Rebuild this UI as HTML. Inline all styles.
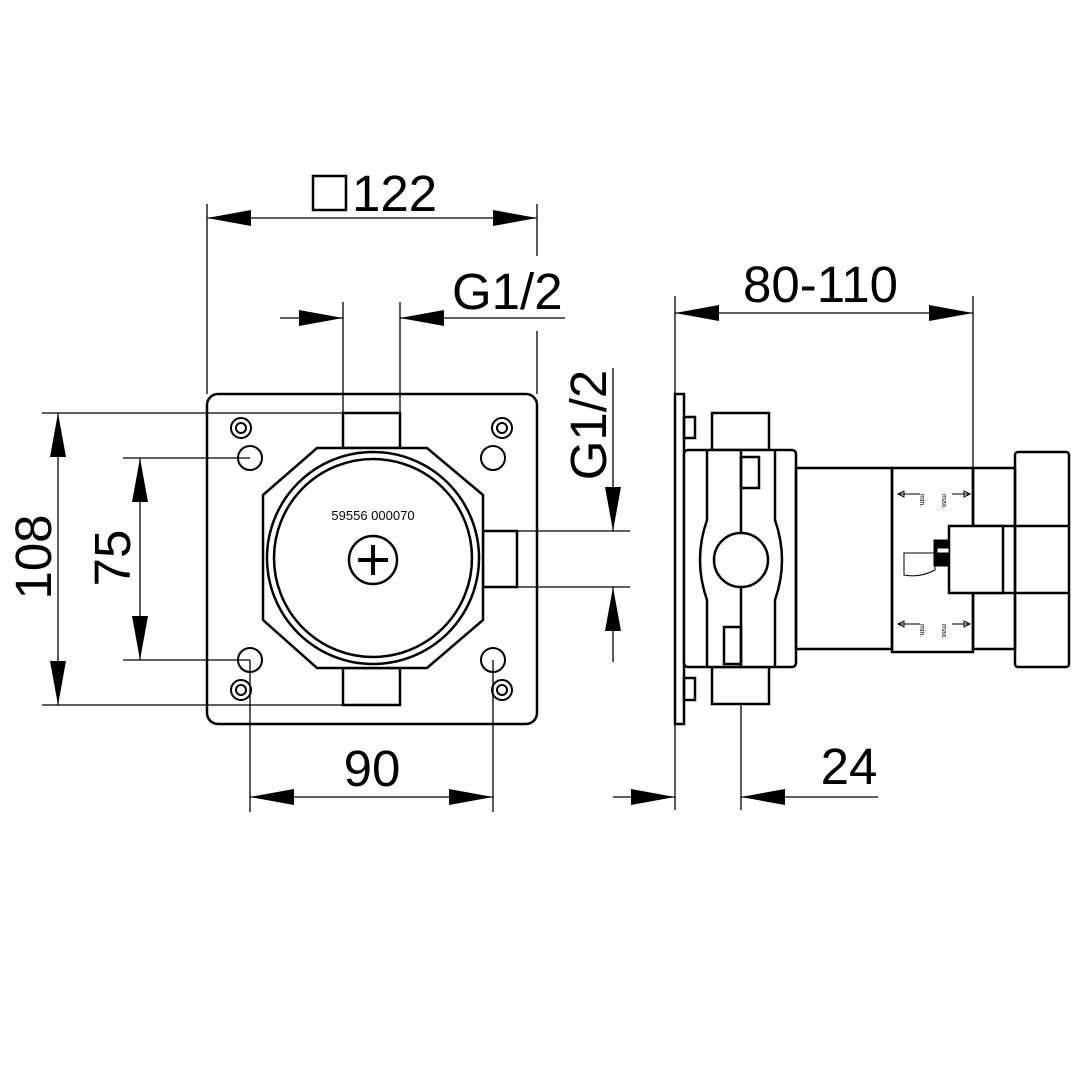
<!DOCTYPE html>
<html><head><meta charset="utf-8"><style>
html,body{margin:0;padding:0;background:#fff}
svg{display:block}
text{font-family:"Liberation Sans",sans-serif;fill:#000}
</style></head><body>
<svg width="1080" height="1080" viewBox="0 0 1080 1080" xmlns="http://www.w3.org/2000/svg">
<defs>
<marker id="a" viewBox="0 0 44 16" refX="44" refY="8" markerWidth="44" markerHeight="16" markerUnits="userSpaceOnUse" orient="auto"><path d="M0,0 L44,8 L0,16 Z" fill="#000"/></marker>
</defs>
<g stroke="#000" fill="none">
<g stroke-width="1.3">
<line x1="207" y1="204" x2="207" y2="394"/>
<line x1="537" y1="204" x2="537" y2="256"/>
<line x1="537" y1="331" x2="537" y2="394"/>
<line x1="343" y1="302" x2="343" y2="413"/>
<line x1="400" y1="302" x2="400" y2="413"/>
<line x1="42" y1="413" x2="343" y2="413"/>
<line x1="42" y1="705" x2="343" y2="705"/>
<line x1="123" y1="458" x2="250" y2="458"/>
<line x1="123" y1="660" x2="250" y2="660"/>
<line x1="250" y1="660" x2="250" y2="812"/>
<line x1="493" y1="660" x2="493" y2="812"/>
<line x1="517" y1="531" x2="630" y2="531"/>
<line x1="517" y1="587" x2="630" y2="587"/>
<line x1="675" y1="296" x2="675" y2="810"/>
<line x1="973" y1="296" x2="973" y2="468"/>
<line x1="741" y1="704" x2="741" y2="810"/>
<line x1="280" y1="318" x2="343" y2="318" marker-end="url(#a)"/>
<line x1="565" y1="318" x2="400" y2="318" marker-end="url(#a)"/>
<line x1="58" y1="560" x2="58" y2="413" marker-end="url(#a)"/>
<line x1="58" y1="560" x2="58" y2="705" marker-end="url(#a)"/>
<line x1="140" y1="560" x2="140" y2="458" marker-end="url(#a)"/>
<line x1="140" y1="560" x2="140" y2="660" marker-end="url(#a)"/>
<line x1="372" y1="797" x2="250" y2="797" marker-end="url(#a)"/>
<line x1="372" y1="797" x2="493" y2="797" marker-end="url(#a)"/>
<line x1="613" y1="368" x2="613" y2="531" marker-end="url(#a)"/>
<line x1="613" y1="662" x2="613" y2="587" marker-end="url(#a)"/>
<line x1="824" y1="313" x2="675" y2="313" marker-end="url(#a)"/>
<line x1="824" y1="313" x2="973" y2="313" marker-end="url(#a)"/>
<line x1="613" y1="797" x2="675" y2="797" marker-end="url(#a)"/>
<line x1="878" y1="797" x2="741" y2="797" marker-end="url(#a)"/>
<line x1="372" y1="218" x2="207" y2="218" marker-end="url(#a)"/>
<line x1="372" y1="218" x2="537" y2="218" marker-end="url(#a)"/>
</g>

<g stroke-width="2.5">
<rect x="207" y="394" width="330" height="330" rx="11"/>
<rect x="343" y="413" width="57" height="35"/>
<rect x="343" y="668" width="57" height="37"/>
<rect x="483" y="531" width="34" height="56"/>
<path d="M317,448 L427,448 L483,495 L483,620 L427,668 L317,668 L263,620 L263,495 Z" fill="#fff"/>
<circle cx="373" cy="558" r="106"/>
<circle cx="373" cy="558" r="99"/>
<circle cx="373" cy="560" r="24"/>
</g>
<g stroke-width="2">
<circle cx="241" cy="428" r="10"/><circle cx="241" cy="428" r="5"/>
<circle cx="502" cy="428" r="10"/><circle cx="502" cy="428" r="5"/>
<circle cx="241" cy="690" r="10"/><circle cx="241" cy="690" r="5"/>
<circle cx="502" cy="690" r="10"/><circle cx="502" cy="690" r="5"/>
<circle cx="250" cy="458" r="12"/><circle cx="493" cy="458" r="12"/>
<circle cx="250" cy="660" r="12"/><circle cx="493" cy="660" r="12"/>
</g>
<path d="M358,560 H388 M373,545 V575" stroke-width="4"/>

<g stroke-width="2.5">
<rect x="675" y="394" width="9" height="330"/>
<rect x="684" y="417" width="11" height="21"/>
<rect x="684" y="678" width="11" height="22"/>
<rect x="712" y="413" width="57" height="37"/>
<rect x="712" y="667" width="57" height="37"/>
<rect x="684" y="450" width="112" height="217" rx="4" fill="#fff"/>
<path d="M707,450 V520 Q700,540 700,560 Q700,580 707,600 V667"/>
<path d="M775,450 V520 Q782,540 782,560 Q782,580 775,600 V667"/>
<line x1="741" y1="450" x2="741" y2="533"/>
<line x1="741" y1="587" x2="741" y2="667"/>
<circle cx="741" cy="560" r="27"/>
<rect x="741" y="457" width="18" height="31"/>
<rect x="724" y="627" width="17" height="37"/>
<rect x="796" y="468" width="96" height="181"/>
<rect x="892" y="468" width="81" height="184"/>
<rect x="973" y="468" width="42" height="181"/>
<line x1="973" y1="526" x2="1015" y2="526"/>
<line x1="973" y1="593" x2="1015" y2="593"/>
<rect x="1015" y="452" width="54" height="215" rx="3"/>
<line x1="1015" y1="526" x2="1069" y2="526"/>
<line x1="1015" y1="593" x2="1069" y2="593"/>
<rect x="949" y="526" width="54" height="67" fill="#fff"/>
</g>
<g stroke-width="1">
<path d="M898,494 H920 M898,494 l6,-3 v6 z M952,494 H970 M970,494 l-6,-3 v6 z"/>
<path d="M898,624 H920 M898,624 l6,-3 v6 z M952,624 H970 M970,624 l-6,-3 v6 z"/>
<path d="M904,553 H935 V570 Q920,578 904,575 Z"/>
</g>
<rect x="934" y="540" width="15" height="26" fill="#000"/>
<rect x="937" y="548" width="12" height="5" fill="#fff"/>
</g>
<text x="920" y="494" font-size="7" transform="rotate(90 920 494)">min.</text>
<text x="942" y="494" font-size="7" transform="rotate(90 942 494)">max.</text>
<text x="920" y="624" font-size="7" transform="rotate(90 920 624)">min.</text>
<text x="942" y="624" font-size="7" transform="rotate(90 942 624)">max.</text>

<rect x="313" y="176" width="33" height="34" fill="none" stroke="#000" stroke-width="2.5"/>
<text x="352" y="211" font-size="51">122</text>
<text x="452" y="309" font-size="51">G1/2</text>
<text x="743" y="302" font-size="51">80-110</text>
<text x="372" y="786" font-size="51" text-anchor="middle">90</text>
<text x="849" y="784" font-size="51" text-anchor="middle">24</text>
<text x="0" y="0" font-size="51" text-anchor="middle" transform="translate(51,557) rotate(-90)">108</text>
<text x="0" y="0" font-size="51" text-anchor="middle" transform="translate(130,558) rotate(-90)">75</text>
<text x="0" y="0" font-size="51" text-anchor="middle" transform="translate(606,425) rotate(-90)">G1/2</text>
<text x="373" y="520" font-size="13" text-anchor="middle" fill="#333">59556 000070</text>
</svg>
</body></html>
